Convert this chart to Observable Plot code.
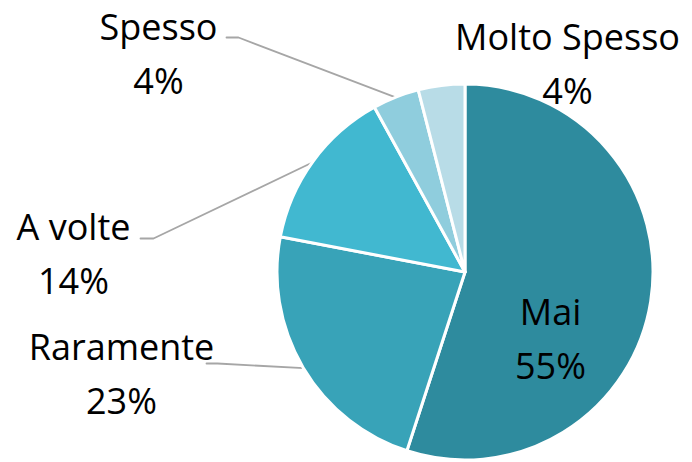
<!DOCTYPE html>
<html>
<head>
<meta charset="utf-8">
<script src="https://cdn.jsdelivr.net/npm/d3@7"></script>
<script src="https://cdn.jsdelivr.net/npm/@observablehq/plot@0.6"></script>
<style>
  html, body { margin: 0; padding: 0; background: #fff; }
  #chart svg { display: block; }
</style>
</head>
<body>
<div id="chart"></div>
<script>
// Data
const categories = ["Mai", "Raramente", "A volte", "Spesso", "Molto Spesso"];
const values = [55, 23, 14, 4, 4];
const pctLabels = ["55%", "23%", "14%", "4%", "4%"];
const colors = ["#2E8B9E", "#38A3B8", "#41B8D0", "#8FCDDD", "#B8DCE7"];

// Layout (pixels)
const W = 692, H = 462;
const cx = 465, cy = 272, R = 188;
// label anchor (center x, baseline of first line), with leader horizontal start x
const labelLayout = [
  {x: 550, y: 324, leader: null},
  {x: 121, y: 359, leader: {x0: 206, y0: 363, x1: 217}},
  {x: 73,  y: 239, leader: {x0: 140, y0: 238, x1: 153}},
  {x: 158, y: 39,  leader: {x0: 226, y0: 37, x1: 238}},
  {x: 567, y: 49,  leader: null}
];
const lineGap = 54;

const pie = d3.pie().sort(null).value(d => d.value)(
  categories.map((c, i) => ({name: c, value: values[i], pct: pctLabels[i], color: colors[i], i}))
);

const slices = pie.map(p => {
  const mid = (p.startAngle + p.endAngle) / 2;
  return {...p, mid, ex: cx + R * Math.sin(mid), ey: cy - R * Math.cos(mid)};
});

const leaderPts = [];
slices.forEach((s, k) => {
  const L = labelLayout[k].leader;
  if (!L) return;
  leaderPts.push({x: L.x0, y: L.y0, g: k});
  leaderPts.push({x: L.x1, y: L.y0, g: k});
  leaderPts.push({x: s.ex, y: s.ey, g: k});
});

const texts = [];
slices.forEach((s, k) => {
  const L = labelLayout[k];
  texts.push({x: L.x, y: L.y, t: s.data.name});
  texts.push({x: L.x, y: L.y + lineGap, t: s.data.pct});
});

function pieMark(index, scales, values, dimensions, context) {
  const g = d3.create("svg:g");
  const arc = d3.arc().innerRadius(0).outerRadius(R);
  const x0 = scales.x(cx), y0 = scales.y(cy);
  g.selectAll("path").data(slices).join("path")
    .attr("transform", `translate(${x0},${y0})`)
    .attr("d", d => arc(d))
    .attr("fill", d => d.data.color)
    .attr("stroke", "#fff")
    .attr("stroke-width", 3)
    .attr("stroke-linejoin", "round");
  return g.node();
}

const chart = Plot.plot({
  width: W,
  height: H,
  margin: 0,
  x: {domain: [0, W], range: [0, W], axis: null},
  y: {domain: [0, H], range: [0, H], axis: null},
  style: {fontFamily: "'Open Sans', sans-serif", background: "#fff"},
  marks: [
    Plot.line(leaderPts, {x: "x", y: "y", z: "g", stroke: "#A6A6A6", strokeWidth: 1.8}),
    pieMark,
    Plot.text(texts, {x: "x", y: "y", text: "t", fontSize: 36, fill: "#000", textAnchor: "middle", lineAnchor: "bottom"})
  ]
});

document.getElementById("chart").appendChild(chart);
</script>
</body>
</html>
